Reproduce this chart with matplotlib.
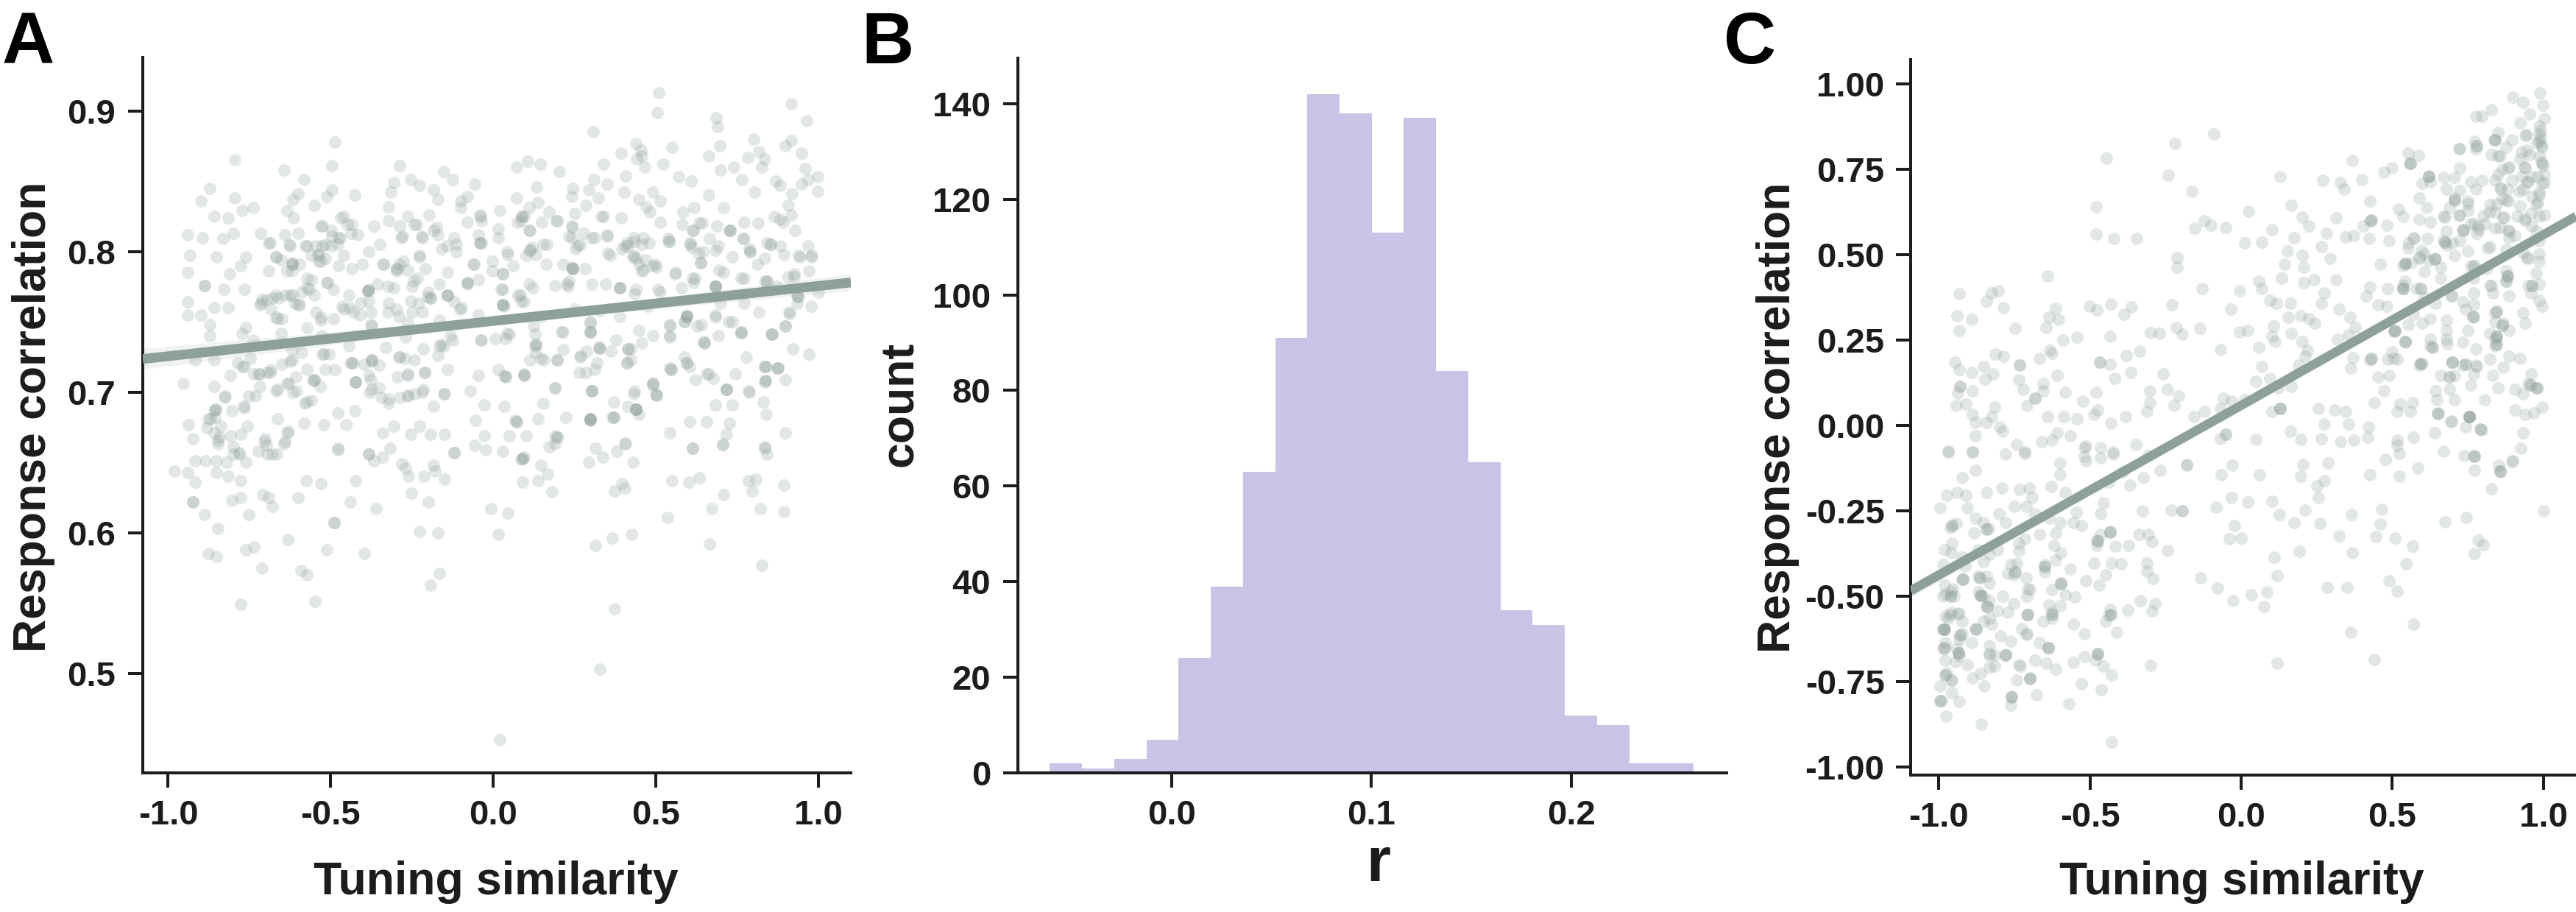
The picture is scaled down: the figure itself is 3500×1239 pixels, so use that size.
import numpy as np
import matplotlib
matplotlib.use("Agg")
import matplotlib.pyplot as plt

plt.rcParams["font.family"] = ["Liberation Sans", "DejaVu Sans"]
plt.rcParams["font.weight"] = "bold"

W, H = 3500, 1239
DARK = "#1c1c1c"
DOT = "#8e9f9b"
LINE = "#8ea09c"
BAR = "#c8c4e6"

# panel A, values
a_points = [
(-.981,.644),(-.941,.643),(-.917,.636),(-.924,.622),(-.924,.622),(-.917,.651),(-.886,.651),(-.851,.651),(-.851,.643),(-.816,.640),
(-.820,.650),(-.799,.656),(-.782,.657),(-.761,.650),(-.778,.637),(-.804,.623),(-.778,.625),(-.887,.613),(-.846,.603),(-.752,.613),
(-.877,.585),(-.851,.583),(-.761,.588),(-.735,.590),(-.712,.575),(-.778,.549),(-.709,.627),(-.690,.625),(-.679,.619),(-.723,.658),
(-.695,.656),(-.666,.656),(-.643,.663),(-.478,.659),(-.383,.656),(-.366,.651),(-.340,.654),(-.317,.660),(-.282,.649),(-.270,.646),
(-.260,.640),(-.213,.640),(-.184,.648),(-.179,.644),(-.149,.638),(-.121,.657),(-.575,.637),(-.530,.635),(-.423,.637),(-.600,.625),
(-.440,.622),(-.360,.617),(-.490,.607),(-.490,.607),(-.633,.595),(-.513,.588),(-.397,.585),(-.591,.573),(-.574,.570),(-.548,.551),
(-.227,.601),(-.170,.600),(-.251,.628),(-.199,.622),(-.165,.571),(-.192,.563),(-.007,.617),(.045,.614),(.016,.599),(.021,.453),
(.329,.503),(.373,.546),(.315,.591),(.367,.596),(.426,.599),(.373,.630),(.397,.635),(.404,.632),(.536,.611),(.549,.637),
(.603,.636),(.633,.639),(.672,.617),(.666,.592),(.709,.627),(.797,.630),(.785,.637),(.809,.638),(.821,.617),(.827,.577),
(.893,.634),(.894,.615),(.090,.636),(.137,.637),(.180,.629),(.168,.642),(.146,.648),(.085,.652),(.094,.654),(-.057,.662),
(-.024,.659),(.029,.658),(.293,.650),(.315,.660),(.336,.654),(.380,.658),(.404,.663),(.430,.650),(.172,.661),(.189,.663),
(.614,.660),(.705,.662),(.835,.660),(.841,.656),
(.510,.913),(.504,.899),(.917,.905),(.964,.893),(.686,.895),(.690,.889),(.307,.885),(-.487,.878),(.697,.875),(.802,.880),
(.917,.879),(.899,.875),(.549,.874),(.440,.877),(.393,.870),(.454,.872),(.458,.868),(.662,.868),(.948,.870),(.783,.867),
(.816,.871),(.835,.866),(.442,.866),(.106,.864),(-.794,.865),(.073,.860),(.144,.862),(.340,.862),(.523,.862),(.466,.860),
(-.496,.861),(-.643,.858),(-.288,.861),(-.151,.857),(.203,.857),(.700,.858),(.740,.860),(.827,.860),(.960,.859),(.407,.854),
(.310,.851),(-.582,.851),(.570,.853),(.608,.850),(.766,.851),(.870,.850),(.998,.853),(.969,.851),(.948,.848),(-.253,.851),
(-.305,.849),(-.125,.851),(-.057,.848),(-.872,.845),(-.227,.847),(.350,.848),(.293,.844),(.244,.845),(.133,.846),(.882,.847),
(.998,.843),(-.184,.844),(-.496,.844),(-.600,.841),(-.426,.840),(.402,.842),(.492,.842),(.804,.842),(.662,.840),(.918,.841),
(-.314,.842),(-.899,.836),(-.794,.838),(-.617,.837),(-.513,.839),(-.170,.837),(-.101,.836),(-.080,.839),(.073,.838),(.243,.839),
(.324,.838),(.449,.837),(.513,.836),(.284,.833),(.137,.835),(-.551,.833),(-.773,.829),(-.738,.831),(-.322,.832),(-.101,.831),
(.019,.829),(.470,.832),(.618,.831),(.709,.831),(.908,.833),(-.634,.829),(.111,.831),(.584,.828),(.251,.827),(.483,.828),
(.172,.828),(-.859,.825),(-.816,.824),(-.614,.824),(-.461,.825),(-.262,.825),(-.198,.826),(-.040,.826),(.094,.825),(.333,.825),
(.865,.825),(.917,.826),(.882,.823),(.085,.822),(-.322,.822),(.393,.824),(.149,.821),(.194,.822),(-.080,.821),(-.036,.822),
(-.435,.819),(-.366,.818),(-.288,.818),(-.236,.819),(.633,.820),(.771,.821),(.815,.820),(.891,.821),(.513,.821),(-.525,.818),
(.582,.819),(.688,.818),(.243,.818),(-.184,.815),(.016,.816),(.613,.815),(.726,.815),(.929,.815),(-.941,.812),(-.894,.810),
(-.799,.813),(-.716,.813),(-.600,.813),(-.496,.811),(-.418,.812),(-.284,.810),(-.218,.810),(-.170,.812),(-.045,.812),(.111,.815),
(.302,.810),(.350,.811),(.432,.810),(.241,.810),(-.832,.809),(-.475,.810),(.539,.809),(.666,.809),(.769,.809),(.842,.806),
(.607,.806),(-.690,.806),(-.626,.804),(-.574,.804),(-.516,.805),(-.348,.805),(-.114,.805),(-.036,.806),(.154,.805),(.120,.803),
(.267,.805),(.414,.804),(.458,.805),(.692,.804),(.787,.802),(.969,.804),(.882,.804),(-.932,.797),(-.851,.796),(-.761,.796),
(-.669,.796),(-.539,.798),(-.461,.797),(-.383,.800),(-.158,.802),(.042,.800),(.102,.797),(.354,.799),(.432,.797),(.631,.799),
(.735,.796),(.943,.796),(.977,.796),(.835,.795),(.397,.802),(-.530,.793),(-.618,.792),(-.227,.796),(-.288,.791),(-.340,.791),
(-.404,.791),(-.475,.790),(-.002,.793),(.215,.791),(.241,.789),(.639,.792),(.813,.791),(.492,.790),(.449,.791),(.163,.791),
(-.776,.790),(-.062,.791),(-.941,.785),(-.811,.784),(-.690,.786),(-.618,.786),(-.435,.788),(-.296,.786),(-.140,.785),(.029,.784),
(.562,.785),(.613,.781),(.709,.785),(.925,.784),(.970,.786),(.458,.786),(-.002,.786),(-.887,.776),(-.887,.776),(-.766,.773),
(-.829,.773),(-.510,.778),(-.383,.773),(-.080,.777),(-.245,.779),(.302,.777),(.232,.779),(.683,.775),(.835,.779),(.111,.777),
(.189,.776),(.388,.774),(.771,.781),(.908,.782),(.345,.777),(-.711,.766),(-.669,.769),(-.626,.769),(-.574,.774),(-.444,.769),
(-.201,.768),(-.140,.769),(.024,.773),(.076,.769),(.440,.773),(.513,.771),(.873,.775),(1.0,.771),(.934,.769),(.579,.774),
(-.941,.764),(-.305,.774),(-.859,.760),(-.816,.760),(-.718,.762),(-.600,.762),(-.461,.759),(-.383,.765),(-.322,.763),(-.253,.765),
(-.097,.760),(.033,.761),(.085,.765),(.250,.759),(.328,.758),(.475,.761),(.700,.763),(.977,.761),(.771,.763),(.934,.763),
(-.941,.755),(-.899,.755),(-.669,.753),(-.530,.753),(-.409,.755),(-.218,.757),(-.045,.755),(.146,.754),(.596,.755),(.683,.755),
(.818,.757),(.911,.756),(.388,.754),(-.873,.748),(-.761,.746),(-.574,.746),(-.374,.747),(-.166,.751),(.298,.749),(.544,.748),
(.735,.750),(.899,.747),(.588,.750),(.640,.748),(-.773,.742),(-.652,.742),(-.527,.740),(.042,.742),(.128,.741),(.215,.743),
(.298,.743),(.449,.744),(.763,.742),(.856,.741),(-.873,.740),(-.132,.740),(.007,.738),(.544,.739),(.492,.740),(.648,.736),
(.692,.740),(-.270,.739),(-.738,.737),(-.036,.737),(.128,.733),(.215,.730),(.328,.731),(.423,.731),(.922,.731),(.972,.727),
(-.444,.733),(-.522,.727),(-.331,.732),(-.166,.733),(-.618,.730),(-.917,.723),(-.859,.723),(-.773,.718),(-.721,.713),(-.686,.714),
(-.626,.722),(-.431,.721),(-.374,.722),(-.288,.725),(-.140,.716),(.016,.716),(.094,.713),(.146,.724),(.267,.725),(.319,.721),
(.423,.723),(.544,.717),(.657,.713),(.778,.725),(.839,.718),(.873,.717),(.284,.714),(.588,.725),(-.808,.712),(-.556,.708),
(-.634,.706),(-.423,.707),(-.383,.712),(-.262,.713),(-.210,.714),(-.045,.712),(.033,.712),(.899,.709),(.835,.707),(.492,.705),
(-.953,.706),(.744,.713),(-.859,.704),(-.669,.701),(-.617,.700),(-.374,.702),(-.322,.692),(-.262,.697),(-.218,.700),(-.149,.699),
(-.071,.701),(.189,.703),(.302,.701),(.432,.699),(.501,.699),(.718,.702),(.787,.700),(-.825,.697),(-.768,.690),(-.574,.693),
(-.859,.687),(-.184,.690),(-.028,.691),(.033,.690),(.154,.692),(.371,.693),(.440,.688),(.683,.691),(.735,.691),(.830,.693),
(.414,.690),(-.478,.685),(-.426,.687),(-.938,.677),(-.869,.681),(-.664,.681),(-.582,.678),(-.522,.677),(-.452,.677),(-.305,.676),
(-.227,.676),(-.054,.680),(.068,.680),(.137,.681),(.224,.682),(.298,.680),(.298,.680),(.367,.682),(.449,.684),(.605,.679),
(.657,.679),(.726,.678),(.839,.684),(-.924,.667),(-.859,.671),(-.756,.676),(-.634,.671),(-.340,.671),(-.253,.670),(-.192,.670),
(-.149,.670),(-.028,.669),(.050,.669),(.102,.669),(.189,.669),(.544,.671),(.899,.671),(.718,.670),(-.704,.665),(.407,.664),
(-.846,.666),(-.383,.656),(-.478,.660),(-.121,.657),(.614,.660),(.705,.663),(.835,.661),
]
# second pass over the dense middle of panel A
a_dense = [
(-.536,.798),(-.547,.804),(-.525,.804),(-.498,.804),(-.479,.805),(-.559,.797),(-.536,.793),(-.517,.795),(-.619,.791),(-.619,.791),
(-.634,.786),(-.578,.804),(-.472,.810),(-.438,.813),(-.449,.819),(-.468,.824),(-.529,.818),(-.498,.815),(-.642,.812),(-.627,.805),
(-.687,.806),(-.668,.796),(-.653,.794),(-.596,.791),(-.574,.781),(-.559,.780),(-.513,.778),(-.491,.773),(-.566,.773),(-.551,.769),
(-.589,.771),(-.619,.769),(-.642,.769),(-.661,.767),(-.680,.767),(-.698,.766),(-.713,.763),(-.683,.759),(-.664,.752),(-.649,.752),
(-.596,.762),(-.612,.763),(-.547,.757),(-.529,.751),(-.491,.752),(-.464,.761),(-.442,.760),(-.430,.757),(-.408,.763),(-.385,.772),
(-.385,.772),(-.385,.772),(-.355,.777),(-.325,.775),(-.377,.757),(-.377,.748),(-.325,.757),(-.298,.759),(-.291,.754),(-.264,.749),
(-.249,.757),(-.230,.763),(-.193,.767),(-.193,.767),(-.200,.771),(-.140,.769),(-.140,.769),(-.166,.777),(-.121,.764),(-.102,.759),
(-.079,.778),(-.079,.778),(-.045,.780),(-.060,.791),(-.208,.788),(-.234,.781),(-.249,.775),(-.264,.787),(-.298,.788),(-.298,.788),
(-.276,.793),(-.336,.791),(-.226,.797),(-.279,.811),(-.242,.819),(-.219,.811),(-.174,.817),(-.143,.804),(-.113,.800),(-.121,.810),
(-.042,.806),(-.042,.806),(-.038,.825),(-.766,.718),(-.785,.721),(-.747,.724),(-.736,.713),(-.721,.713),(-.695,.714),(-.683,.716),
(-.649,.720),(-.619,.723),(-.589,.728),(-.525,.727),(-.506,.727),(-.438,.721),(-.438,.721),(-.374,.723),(-.374,.723),(-.351,.719),
(-.396,.720),(-.291,.725),(-.272,.724),(-.242,.723),(-.170,.726),(-.162,.734),(-.151,.733),(-.125,.737),(-.038,.737),(-.215,.731),
(-.423,.707),(-.423,.707),(-.377,.709),(-.351,.703),(-.381,.700),(-.344,.696),(-.321,.695),(-.287,.696),(-.264,.698),(-.242,.699),
(-.215,.702),(-.211,.714),(-.264,.712),(-.294,.711),(-.151,.699),(-.551,.709),(-.551,.709),(-.532,.704),(-.630,.706),(-.604,.701),
(-.664,.702),(-.581,.692),(-.559,.694),(-.574,.716),(-.517,.716),(-.487,.716),(-.608,.711),(-.717,.704),(-.732,.697),(-.751,.697),
(-.766,.689),(-.804,.687),(-.827,.696),(-.853,.688),(-.853,.688),(-.857,.682),(-.876,.681),(-.838,.676),(-.880,.675),(-.842,.668),
(-.846,.663),(-.808,.669),(-.778,.670),(-.702,.667),(-.698,.662),(-.679,.656),(-.642,.665),(-.630,.672),(-.800,.661),(-.781,.656),
(.087,.825),(.087,.825),(.075,.821),(.113,.815),(.015,.810),(.045,.798),(.113,.801),(.113,.801),(.132,.798),(.060,.790),
(.030,.784),(.166,.805),(.196,.822),(.340,.825),(.245,.817),(.279,.813),(.234,.811),(.313,.810),(.351,.812),(.260,.804),
(.253,.802),(.359,.797),(.411,.806),(.434,.807),(.404,.804),(.461,.810),(.479,.806),(.430,.796),(.438,.795),(.468,.794),
(.502,.789),(.498,.791),(.461,.787),(.540,.807),(.540,.807),(.604,.805),(.612,.803),(.615,.815),(.642,.820),(.729,.815),
(.729,.815),(.646,.800),(.683,.801),(.638,.792),(.695,.787),(.559,.784),(.619,.781),(.615,.778),(.683,.775),(.683,.775),
(.683,.775),(.763,.781),(.789,.800),(.789,.800),(.770,.809),(.853,.805),(.853,.805),(.842,.779),(.842,.779),(.895,.798),
(.940,.797),(.981,.797),(.925,.782),(.245,.788),(.245,.788),(.245,.788),(.227,.777),(.230,.775),(.283,.788),(.121,.774),
(.389,.774),(.389,.774),(.434,.770),(.506,.773),(.030,.773),(.083,.769),(.094,.764),(.030,.762),(.030,.762),(.030,.762),
(.298,.750),(.298,.743),(.298,.743),(.125,.747),(.211,.743),(.049,.741),(.038,.738),(.132,.734),(.132,.734),(.132,.728),
(.113,.723),(.155,.723),(.196,.723),(.196,.723),(.268,.726),(.287,.729),(.325,.732),(.325,.732),(.362,.729),(.378,.737),
(.415,.731),(.415,.731),(.457,.735),(.411,.721),(.411,.721),(.544,.740),(.544,.747),(.596,.754),(.596,.754),(.596,.754),
(.589,.750),(.627,.747),(.649,.735),(.649,.735),(.683,.753),(.725,.750),(.763,.743),(.763,.743),(.857,.741),(.857,.741),
(.898,.747),(.910,.757),(.936,.768),(.936,.768),(.038,.711),(.038,.711),(.094,.712),(.094,.712),(.189,.703),(.264,.714),
(.313,.716),(.302,.701),(.302,.701),(.491,.706),(.491,.706),(.502,.698),(.502,.698),(.434,.701),(.438,.688),(.438,.688),
(.438,.688),(.370,.682),(.370,.682),(.298,.681),(.298,.681),(.298,.681),(.072,.679),(.072,.679),(.196,.668),(.196,.668),
(.091,.653),(.091,.653),(.547,.716),(.547,.716),(.596,.721),(.596,.721),(.604,.718),(.623,.709),(.664,.713),(.676,.710),
(.717,.702),(.717,.702),(.785,.701),(.834,.718),(.834,.718),(.876,.717),(.876,.717),(.838,.708),(.838,.708),
]
a_line_x = [-1.078, 0.0, 1.10]
a_line_y = [0.7236, 0.7506, 0.778]
a_band = [0.0075, 0.002, 0.006]
a_xticks = [-1.0, -0.5, 0.0, 0.5, 1.0]
a_yticks = [0.5, 0.6, 0.7, 0.8, 0.9]

# panel B histogram
b_edges = np.linspace(-0.0608, 0.2611, 21)
b_counts = [2, 1, 3, 7, 24, 39, 63, 91, 142, 138, 113, 137, 84, 65, 34, 31, 12, 10, 2, 2]
b_xticks = [0.0, 0.1, 0.2]
b_yticks = [0, 20, 40, 60, 80, 100, 120, 140]

# panel C
c_points = [
(-.429,-.928),(-.859,-.877),(-.977,-.853),(-.762,-.820),(-.759,-.794),(-.677,-.790),(-.569,-.815),(-.463,-.775),(-.528,-.757),(-.429,-.731),
(-.299,-.703),(.119,-.697),(.441,-.686),(.362,-.606),(.571,-.583),(.076,-.531),(-.027,-.513),(.034,-.497),(.086,-.487),(-.077,-.478),
(-.135,-.447),(.119,-.440),(.285,-.475),(.350,-.474),(.490,-.456),(.517,-.485),(.546,-.406),(.110,-.386),(.193,-.369),(.367,-.373),
(.324,-.325),(.445,-.327),(.510,-.331),(.567,-.355),(.771,-.375),(.802,-.349),(.784,-.338),(-.040,-.332),(0.0,-.331),(-.023,-.294),
(.176,-.285),(.261,-.287),(.459,-.289),(.674,-.282),(.746,-.270),(1.0,-.25),(.126,-.261),(.213,-.248),(.366,-.261),(.466,-.246),
(-.083,-.239),(-.032,-.211),(.023,-.224),(.103,-.222),(.256,-.211),(.250,-.178),(.274,-.162),(.196,-.149),(.427,-.145),(.524,-.149),
(.584,-.125),(.829,-.186),(.856,-.136),(.852,-.118),(.899,-.105),(.926,-.068),(.771,-.132),(.769,-.090),(.737,-.090),(.670,-.075),
(.477,-.099),(.524,-.082),(.517,-.058),(.287,-.110),(.205,-.114),(.061,-.146),(-.065,-.145),(-.029,-.118),(-.180,-.117),(-.267,-.133),
(-.324,-.153),(-.326,-.25),(-.231,-.248),(-.195,-.25),(-.195,-.25),
(-.996,-.242),(-.975,-.206),(-.939,-.197),(-.912,-.206),(-.906,-.242),(-.843,-.197),(-.791,-.184),(-.732,-.189),(-.701,-.184),(-.692,-.211),
(-.629,-.180),(-.582,-.197),(-.546,-.254),(-.456,-.228),(-.465,-.259),(-.924,-.154),(-.879,-.132),(-.750,-.237),(-.802,-.259),(-.710,-.237),
(-.681,-.259),(-.636,-.272),(-.555,-.285),(-.600,-.285),(-.528,-.294),(-.961,-.301),(-.943,-.287),(-.879,-.272),(-.883,-.316),(-.836,-.303),
(-.780,-.285),(-.852,-.285),(-.735,-.346),(-.717,-.333),(-.667,-.320),(-.618,-.351),(-.614,-.316),(-.477,-.338),(-.477,-.351),(-.434,-.311),
(-.416,-.355),(-.373,-.351),(-.338,-.320),(-.306,-.320),(-.294,-.342),(-.243,-.368),(-.465,-.320),(-.982,-.364),(-.957,-.346),(-.960,-.373),
(-.924,-.386),(-.870,-.364),(-.834,-.377),(-.807,-.364),(-.735,-.368),(-.597,-.373),(-.614,-.395),(-.987,-.408),(-.914,-.412),(-.852,-.399),
(-.762,-.408),(-.744,-.404),(-.650,-.408),(-.650,-.430),(-.564,-.421),(-.486,-.404),(-.429,-.404),(-.397,-.406),(-.311,-.404),(-.311,-.427),
(-.293,-.450),(-.447,-.439),(-.771,-.434),(-.753,-.439),(-.710,-.447),(-.597,-.461),(-.515,-.456),(-.470,-.469),(-.982,-.469),(-.924,-.452),
(-.870,-.443),(-.843,-.443),(-.834,-.461),(-.627,-.482),(-.699,-.481),(-.960,-.487),(-.987,-.500),(-.950,-.500),(-.870,-.487),(-.852,-.500),
(-.789,-.500),(-.708,-.500),(-.582,-.497),(-.550,-.503),(-.333,-.513),(-.285,-.522),(-.294,-.544),(-.375,-.541),(-.434,-.539),(-.438,-.557),
(-.447,-.575),(-.411,-.607),(-.600,-.529),(-.636,-.526),(-.753,-.522),(-.834,-.513),(-.843,-.531),(-.807,-.544),(-.771,-.548),(-.708,-.555),
(-.627,-.548),(-.627,-.566),(-.654,-.575),(-.960,-.548),(-.933,-.550),(-.969,-.566),(-.924,-.575),(-.834,-.566),(-.852,-.575),(-.987,-.597),
(-.987,-.597),(-.924,-.610),(-.879,-.596),(-.825,-.583),(-.555,-.583),(-.519,-.610),(-.726,-.596),(-.708,-.610),(-.796,-.618),(-.762,-.632),
(-.667,-.636),(-.638,-.651),(-.933,-.627),(-.978,-.636),(-.987,-.653),(-.942,-.653),(-.892,-.636),(-.834,-.645),(-.834,-.673),(-.780,-.671),
(-.933,-.675),(-.946,-.693),(-.978,-.689),(-.975,-.724),(-.960,-.746),(-.906,-.702),(-.816,-.706),(-.834,-.711),(-.735,-.702),(-.681,-.689),
(-.645,-.697),(-.614,-.715),(-.555,-.695),(-.519,-.677),(-.474,-.671),(-.483,-.689),(-.456,-.706),(-.699,-.741),(-.744,-.746),(-.888,-.741),
(-.861,-.728),(-.849,-.763),(-.995,-.763),(-.958,-.783),(-.991,-.807),(-.933,-.810),(-.969,-.079),(-.888,-.079),(-.780,-.085),(-.717,-.082),
(-.600,-.110),(-.600,-.145),(-.514,-.061),(-.514,-.105),(-.465,-.096),(-.423,-.085),(-.438,-.167),(-.369,-.175),(-.393,-.136),
(-.933,.385),(-.825,.387),(-.804,.393),(-.843,.363),(-.787,.345),(-.939,.321),(-.892,.310),(-.933,.277),(-.748,.284),(-.641,.438),
(-.614,.343),(-.636,.317),(-.604,.310),(-.645,.286),(-.501,.348),(-.477,.337),(-.432,.355),(-.362,.346),(-.387,.326),(-.542,.258),
(-.589,.249),(-.434,.261),(-.299,.271),(-.270,.268),(-.214,.286),(-.195,.267),(-.137,.283),(-.229,.354),(-.479,.640),(-.445,.783),
(-.481,.561),(-.422,.546),(-.346,.546),(-.240,.732),(-.220,.825),(-.090,.854),(-.164,.685),(-.121,.599),(-.153,.578),(-.099,.585),
(-.050,.579),(-.211,.491),(-.211,.464),(-.130,.401),(-.005,.394),(.025,.627),(.130,.728),(.166,.645),(.270,.717),(.328,.711),
(.341,.691),(.400,.720),(.368,.775),(.472,.741),(.499,.754),(.553,.797),(.586,.790),(.557,.766),(.103,.572),(.013,.535),
(.067,.537),(.175,.550),(.202,.610),(.225,.584),(.315,.608),(.283,.562),(.346,.552),(.373,.555),(.427,.656),(.427,.599),
(.405,.584),(.423,.546),(.481,.585),(.521,.634),(.535,.612),(.490,.540),(.265,.524),(.295,.489),(.153,.511),(.202,.497),
(.144,.471),(.207,.462),(.459,.471),(.135,.431),(.207,.418),(.241,.427),(.058,.423),(.067,.401),(.274,.387),(.315,.427),
(.427,.405),(.414,.379),(.485,.401),(.094,.365),(.117,.358),(.162,.357),(.265,.357),(.324,.339),(.454,.352),(.481,.348),
(.535,.401),(.580,.401),(-.034,.339),(.157,.317),(.196,.321),(.225,.312),(.243,.299),(.360,.317),(.378,.286),(.108,.290),
(.103,.260),(-.005,.273),(.022,.277),(.166,.268),(.355,.264),(.112,.246),(.202,.246),(.058,.229),(.319,.251),(.220,.220),
(.211,.202),(.189,.176),(-.068,.222),(.067,.172),(.094,.138),(.049,.128),(.369,.198),(.427,.191),(.485,.194),(.517,.194),
(.490,.145),(.454,.141),(.589,.176),(.472,.101),(.364,.167),(.166,.114),(.121,.110),(-.258,.150),(-.366,.154),(-.420,.138),
(-.380,.204),(-.335,.217),(-.468,.185),(-.468,.185),(-.434,.179),(-.732,.176),(-.732,.176),(-.668,.196),(-.634,.220),(-.627,.211),
(-.813,.209),(-.786,.201),(-.948,.185),(-.933,.163),(-.892,.154),(-.852,.172),(-.820,.150),(-.847,.136),(-.735,.132),(-.609,.145),
(-.654,.123),(-.721,.106),(-.930,.114),(-.930,.114),(-.937,.094),(-.888,.101),(-.654,.101),(-.582,.097),(-.681,.079),(-.681,.079),
(-.479,.097),(-.303,.101),(-.243,.106),(-.207,.085),(-.303,.066),(-.523,.070),(-.942,.057),(-.912,.062),(-.816,.053),(-.708,.057),
(-.222,.057),(-.059,.079),(-.032,.070),(.013,.075),(-.068,.048),(-.123,.040),(-.312,.040),(-.474,.044),(.130,.048),(.130,.048),
(.130,.048),(.103,.040),(.256,.048),(.310,.044),(.346,.040),(.440,.066),(.526,.062),(.568,.066),(.517,.040),(.559,.040),
(.647,.075),(.706,.075),(.805,.075),(.652,.035),(.755,.026),(.755,.026),(.697,.013),(.905,.044),(.995,.053),(.941,.031),
(.968,.035),(-.888,.031),(-.879,.009),(-.843,.009),(-.825,.026),(-.641,.026),(-.586,.026),(-.542,.018),(-.486,.031),(-.382,.026),
(-.431,.006),(-.155,.026),(.274,.004),(.355,.004),(.422,-.004),(.742,-.004),(.796,-.013),(.932,-.022),(.640,-.022),(-.798,-.004),
(-.879,-.031),(-.789,-.018),(-.609,-.022),(-.564,-.031),(-.050,-.026),(-.050,-.026),(.049,-.041),(.162,-.018),(.198,-.041),(.265,-.040),
(.328,-.048),(.373,-.044),(.418,-.035),(.517,-.044),(.571,-.035),(-.068,-.040),(-.348,-.057),(-.659,-.047),(-.627,-.044),(-.888,-.079),
(-.969,-.075),(-.744,-.057),(-.519,-.066),(-.465,-.066),(-.717,-.079),(-.423,-.079),(-.519,-.092),(-.308,-.088),(-.180,-.114),
(.989,.973),(.998,.938),(.899,.960),(.932,.946),(.827,.924),(.777,.904),(.796,.904),(1.004,.898),(.955,.911),(.923,.886),
(.986,.876),(.986,.854),(.850,.858),(.895,.836),(.838,.836),(.773,.832),(.778,.810),(.724,.810),(.941,.849),(.986,.832),
(.995,.814),(.877,.814),(.946,.805),(.827,.792),(.850,.788),(.986,.788),(.923,.779),(.995,.766),(.886,.757),(.941,.753),
(.850,.735),(1.004,.735),(.622,.731),(.670,.726),(.724,.753),(.706,.726),(.760,.713),(.796,.717),(.841,.717),(.895,.717),
(.950,.713),(.995,.709),(.598,.709),(.625,.713),(.679,.691),(.724,.687),(.777,.691),(.859,.691),(.932,.691),(.986,.682),
(.706,.665),(.751,.656),(.589,.665),(.877,.660),(.823,.647),(.923,.643),(.977,.647),(.613,.638),(.751,.629),(.688,.638),
(.841,.625),(.959,.621),(.670,.612),(.724,.616),(.769,.590),(.805,.590),(.868,.607),(.914,.612),(.986,.612),(.589,.603),
(.625,.594),(.679,.568),(.733,.572),(.787,.572),(.841,.577),(.886,.568),(.941,.599),(.977,.568),(.571,.550),(.616,.546),
(.670,.541),(.724,.541),(.823,.524),(.886,.550),(.986,.541),(.553,.519),(.679,.528),(.607,.502),(.643,.489),(.706,.497),
(.751,.511),(.877,.515),(.932,.506),(.986,.502),(.950,.489),(.535,.467),(.562,.475),(.589,.489),(.769,.467),(.769,.467),
(.661,.462),(.607,.449),(.814,.458),(.877,.453),(.986,.480),(.977,.445),(.877,.423),(.877,.423),(.544,.423),(.661,.431),
(.769,.431),(.823,.409),(.950,.409),(.535,.409),(.986,.414),(.697,.379),(.697,.379),(.769,.387),(.832,.387),(.886,.379),
(.959,.387),(.607,.374),(.643,.357),(.733,.361),(.769,.352),(.841,.330),(.932,.330),(.986,.365),(.995,.348),(.571,.326),
(.625,.312),(.679,.308),(.769,.317),(.841,.304),(.941,.299),(.508,.277),(.508,.277),(.553,.295),(.598,.299),(.679,.277),
(.751,.277),(.868,.299),(.823,.268),(.886,.277),(.544,.242),(.625,.251),(.679,.251),(.733,.242),(.841,.251),(.625,.233),
(.778,.224),(.841,.233),(.886,.202),(.923,.196),(.499,.216),(.598,.180),(.697,.185),(.733,.176),(.778,.176),(.823,.194),
(.868,.170),(.706,.145),(.661,.145),(.769,.150),(.832,.145),(.959,.150),(.950,.123),(.977,.110),(.977,.110),(.760,.119),
(.688,.106),(.643,.101),(.850,.110),(.905,.106),(.932,.092),
]
# second pass over the two dense corners of panel C
c_dense = [
(.990,.864),(.990,.843),(.994,.821),(.978,.828),(.946,.850),(.929,.800),(.954,.793),(.994,.771),(.999,.760),(.938,.757),
(.885,.753),(.856,.789),(.840,.836),(.840,.836),(.864,.750),(.962,.728),(.929,.728),(.946,.713),(.982,.728),(1.003,.710),
(.856,.695),(.881,.692),(.921,.685),(.986,.674),(.982,.652),(.962,.670),(.885,.656),(.844,.649),(.864,.663),(.820,.624),
(.800,.613),(.869,.609),(.938,.606),(.962,.584),(1.003,.616),(.856,.580),(.885,.570),(.905,.555),(.783,.584),(.735,.570),
(.735,.570),(.779,.562),(.759,.591),(.706,.660),(.706,.660),(.751,.649),(.722,.613),(.674,.609),(.674,.537),(.674,.537),
(.698,.534),(.597,.512),(.572,.548),(.552,.534),(.641,.487),(.641,.487),(.544,.473),(.544,.473),(.544,.473),(.589,.494),
(.621,.483),(.759,.465),(.816,.519),(.881,.437),(.881,.437),(.881,.437),(.946,.491),(.828,.408),(.962,.408),(.962,.408),
(.593,.401),(.593,.401),(.536,.401),(.536,.401),(.779,.818),(.779,.818),(.722,.810),(.560,.767),(.560,.767),(.621,.728),
(.621,.728),(.430,.602),(.430,.602),
(.767,.318),(.767,.318),(.743,.340),(.844,.333),(.844,.333),(.844,.261),(.844,.261),(.844,.261),(.844,.236),(.844,.236),
(.864,.293),(.864,.293),(.507,.275),(.507,.275),(.544,.246),(.544,.246),(.430,.195),(.430,.195),(.503,.195),(.593,.180),
(.593,.180),(.633,.228),(.633,.228),(.682,.239),(.698,.185),(.698,.185),(.743,.178),(.743,.178),(.779,.171),(.690,.142),
(.690,.142),(.755,.026),(.755,.026),(.755,.026),(.649,.033),(.649,.033),(.694,.011),(.791,-.012),(.791,-.012),(.958,.117),
(.958,.117),(.982,.110),(.771,-.092),(.771,-.092),(.897,-.106),(.856,-.135),(.856,-.135),
(-.921,-.451),(-.921,-.451),(-.861,-.498),(-.861,-.498),(-.861,-.498),(-.865,-.447),(-.865,-.447),(-.962,-.501),(-.962,-.501),(-.978,-.494),
(-.954,-.480),(-.938,-.552),(-.962,-.555),(-.978,-.559),(-.982,-.598),(-.982,-.598),(-.982,-.598),(-.930,-.616),(-.930,-.616),(-.877,-.598),
(-.877,-.598),(-.934,-.667),(-.934,-.667),(-.934,-.667),(-.982,-.652),(-.982,-.652),(-.978,-.731),(-.978,-.731),(-.958,-.746),(-.840,-.530),
(-.840,-.530),(-.832,-.670),(-.779,-.674),(-.779,-.674),(-.816,-.674),(-.706,-.555),(-.706,-.555),(-.710,-.613),(-.625,-.555),(-.625,-.555),
(-.637,-.652),(-.637,-.652),(-.759,-.796),(-.759,-.796),(-.995,-.807),(-.995,-.807),(-.747,-.429),(-.747,-.429),(-.706,-.480),(-.597,-.465),
(-.597,-.465),(-.650,-.415),(-.650,-.415),(-.842,-.304),(-.842,-.304),(-.958,-.293),(-.958,-.293),(-.475,-.670),(-.475,-.670),(-.434,-.314),
(-.434,-.314),(-.475,-.339),(-.475,-.339),(-.430,-.555),(-.430,-.555),(-.698,-.742),(-.698,-.742),(-.731,-.706),
]
c_line_x = [-1.0935, 0.0, 1.108]
c_line_y = [-0.485, 0.058, 0.612]
c_band = [0.02, 0.004, 0.012]
c_xticks = [-1.0, -0.5, 0.0, 0.5, 1.0]
c_yticks = [-1.0, -0.75, -0.5, -0.25, 0.0, 0.25, 0.5, 0.75, 1.0]


def make_ax(left, right, top, bottom):
    return fig.add_axes([left/W, 1-bottom/H, (right-left)/W, (bottom-top)/H])


def style_ax(ax, xpad=11.5, ypad=12):
    ax.spines["top"].set_visible(False)
    ax.spines["right"].set_visible(False)
    for s in ("left", "bottom"):
        ax.spines[s].set_linewidth(2.9)
        ax.spines[s].set_color(DARK)
    ax.tick_params(axis="x", length=14.5, width=2.9, color=DARK, labelcolor=DARK, labelsize=34, pad=xpad)
    ax.tick_params(axis="y", length=14.5, width=2.9, color=DARK, labelcolor=DARK, labelsize=34, pad=ypad)
    ax.patch.set_alpha(0)


def px_text(x, y, s, size=45, rot=0, ha="center", va="baseline", color=DARK):
    fig.text(x/W, 1-y/H, s, fontsize=size, fontweight="bold", rotation=rot, ha=ha, va=va,
             color=color, rotation_mode="anchor")


def scatter_panel(ax, pts, lx, ly, band, lw):
    pts = np.array(pts)
    ax.scatter(pts[:, 0], pts[:, 1], s=150, color=DOT, alpha=0.25, linewidths=0, zorder=2)
    lx, ly, band = np.array(lx), np.array(ly), np.array(band)
    ax.fill_between(lx, ly-band, ly+band, color=LINE, alpha=0.12, linewidth=0, zorder=3)
    ax.plot(lx, ly, color=LINE, lw=lw, solid_capstyle="butt", zorder=4)


fig = plt.figure(figsize=(W/100, H/100), dpi=100, facecolor="white")

# A
ax = make_ax(194, 1156, 78, 1050)
scatter_panel(ax, a_points + a_dense, a_line_x, a_line_y, a_band, 9.5)
ax.set_xlim(-1.078, 1.10)
ax.set_ylim(0.4293, 0.938)
ax.set_xticks(a_xticks)
ax.set_xticklabels([f"{v:.1f}" for v in a_xticks])
ax.set_yticks(a_yticks)
ax.set_yticklabels([f"{v:.1f}" for v in a_yticks])
style_ax(ax)

# B
ax = make_ax(1383, 2346, 79, 1050)
ax.bar(b_edges[:-1], b_counts, width=np.diff(b_edges), align="edge", color=BAR, linewidth=0)
ax.set_xlim((1383-1591.6)/2717, (2346-1591.6)/2717)
ax.set_ylim(0, 971/6.495)
ax.set_xticks(b_xticks)
ax.set_xticklabels([f"{v:.1f}" for v in b_xticks])
ax.set_yticks(b_yticks)
style_ax(ax)

# C
ax = make_ax(2596, 3500, 81, 1052.5)
scatter_panel(ax, c_points + c_dense, c_line_x, c_line_y, c_band, 9)
ax.set_xlim(-1.0935, 1.108)
ax.set_ylim(-1.0237, 1.071)
ax.set_xticks(c_xticks)
ax.set_xticklabels([f"{v:.1f}" for v in c_xticks])
ax.set_yticks(c_yticks)
ax.set_yticklabels([f"{v:.2f}" for v in c_yticks])
style_ax(ax, ypad=11)

# labels placed in figure pixels
px_text(674, 1215, "Tuning similarity")
px_text(62, 566, "Response correlation", rot=90)
px_text(1873, 1197, "r", size=61)
px_text(1240, 549, "count", rot=90)
px_text(3046, 1215, "Tuning similarity")
px_text(2432, 567, "Response correlation", rot=90)
px_text(3, 86, "A", size=71, ha="left", color="black")
px_text(1170, 86, "B", size=71, ha="left", color="black")
px_text(2342, 86, "C", size=71, ha="left", color="black")

fig.savefig("out.png", dpi=100, facecolor="white")
